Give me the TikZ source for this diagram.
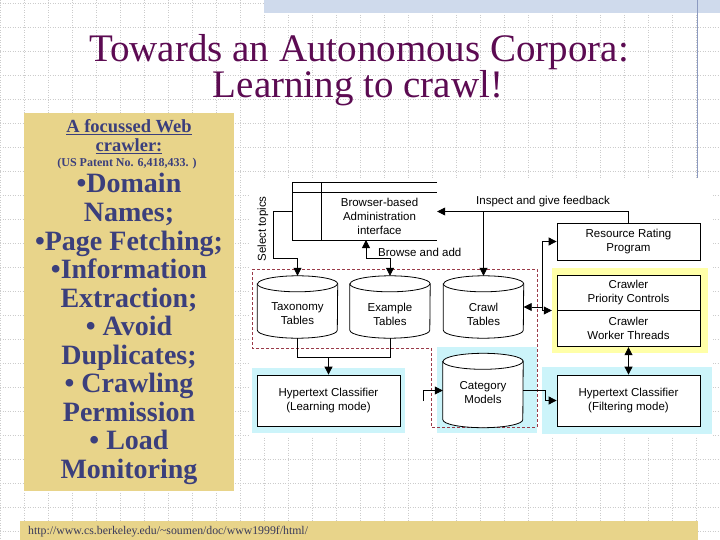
\documentclass[tikz,border=0pt]{standalone}
\usepackage{fontspec}
\setmainfont{Liberation Serif}
\newfontfamily\diagfont{Liberation Sans}
\usetikzlibrary{arrows.meta, positioning, calc}
\definecolor{titlepurple}{HTML}{5C0B52}
\definecolor{panelyellow}{HTML}{E8D48A}
\definecolor{panelblue}{HTML}{3B3F7C}
\definecolor{gridgray}{HTML}{CCCCCC}
\definecolor{bandblue}{HTML}{CFDAEC}
\definecolor{rulegray}{HTML}{8C9AC0}
\definecolor{glowyellow}{HTML}{FFFFA8}
\definecolor{paleteal}{HTML}{CCF4FA}
\definecolor{dashred}{HTML}{9A3A48}
\definecolor{urlgray}{HTML}{3A3A5A}

\begin{document}
\begin{tikzpicture}[
		x=1pt, y=-1pt,
		box/.style={
				draw,
				line width=0.8pt,
				fill=white,
				minimum width=143pt,
				align=center,
				inner sep=0pt,
				font=\diagfont\fontsize{11.5}{14}\selectfont
			},
		tank/.style={minimum width=80pt, inner sep=0pt},
		lbl/.style={align=center, inner sep=0pt, font=\diagfont\fontsize{11.5}{14}\selectfont},
		arr/.style={line width=0.8pt, -{Triangle[length=8pt,width=8pt]}},
		darr/.style={line width=0.8pt, {Triangle[length=8pt,width=8pt]}-{Triangle[length=8pt,width=8pt]}},
		bigline/.style={anchor=base, inner sep=0pt, text=panelblue, font=\bfseries\fontsize{28}{28}\selectfont}
	]
	\useasboundingbox (0,0) rectangle (720,540);

	% slide background
	\fill[white] (0,0) rectangle (720,540);
	\foreach \gx in {0,24,...,720}
	\draw[gridgray, dotted, line width=0.5pt] (\gx,0) -- (\gx,540);
	\foreach \gy in {3,27,...,531}
	\draw[gridgray, dotted, line width=0.5pt] (0,\gy) -- (720,\gy);
	\fill[bandblue] (264,0) rectangle (720,13);
	\draw[rulegray, line width=1pt] (697,0) -- (697,178);

	% title
	\node[anchor=base, inner sep=0pt, text=titlepurple, font=\fontsize{39}{39}\selectfont] (title1) at (359,62) {Towards an Autonomous Corpora:};
	\node[anchor=base, inner sep=0pt, text=titlepurple, font=\fontsize{39}{39}\selectfont] (title2) at (358,98) {Learning to crawl!};

	% left panel
	\fill[panelyellow] (24,113) rectangle (234,491);
	\node[anchor=base, inner sep=0pt, text=panelblue, font=\bfseries\fontsize{18.5}{18.5}\selectfont] (head1) at (129,133) {\underline{A focussed Web}};
	\node[anchor=base, inner sep=0pt, text=panelblue, font=\bfseries\fontsize{18.5}{18.5}\selectfont] (head2) at (129,152) {\underline{crawler:}};
	\node[anchor=base, inner sep=0pt, text=panelblue, font=\bfseries\fontsize{12}{12}\selectfont] (patent) at (127,167) {(US Patent No. 6,418,433. )};
	\foreach \txt [count=\i from 0] in {\textbullet Domain, Names;, \textbullet Page Fetching;, \textbullet Information, Extraction;, \textbullet{} Avoid, Duplicates;, \textbullet{} Crawling, Permission, \textbullet{} Load, Monitoring}
	\node[bigline] (item\i) at (129,193+28.5*\i) {\txt};

	% footer
	\fill[panelyellow] (20,521) rectangle (698,540);
	\node[anchor=base west, inner sep=0pt, text=urlgray, font=\fontsize{11.8}{11.8}\selectfont] (url) at (28,534) {http://www.cs.berkeley.edu/\textasciitilde soumen/doc/www1999f/html/};

	% diagram backdrop
	\fill[white] (250,179) rectangle (713,437);
	\fill[paleteal] (252,368) rectangle (405,433);
	\fill[paleteal] (437,347) rectangle (537,433);
	\fill[paleteal] (542,367) rectangle (712,434);
	\node[fill=glowyellow, minimum width=156pt, minimum height=85pt, inner sep=0pt] (glow) at (630,310.5) {};
	\draw[dashred, line width=0.7pt, dash pattern=on 3pt off 2pt]
	(252,269) -- (537,269) -- (537,427) -- (431,427) -- (431,348) -- (252,348) -- cycle;

	% admin window
	\node[minimum width=144pt, minimum height=57pt, inner sep=0pt] (admin) at (365,211.5) {};
	\draw[line width=0.8pt] (admin.north east) -- (admin.north west) -- (admin.south west) -- (admin.south east);
	\draw[line width=0.8pt] (admin.north west) ++(0,10) -- ++(144,0);
	\draw[line width=0.8pt] (admin.north west) ++(29,0) -- ++(0,57);
	\node[lbl] (admintxt) at (379.5,216) {Browser-based\\Administration\\interface};

	% tables
	\node[tank, minimum height=62pt] (tax) at (297.5,307) {};
	\node[tank, minimum height=62pt] (exa) at (390,307) {};
	\node[tank, minimum height=62pt] (crawl) at (483.5,307) {};
	\node[tank, minimum height=74pt] (cat) at (483,390.5) {};
	\foreach \t in {tax, exa, crawl, cat} {
			\draw[line width=0.8pt, fill=white]
			([yshift=-8pt]\t.north west) -- ([yshift=8pt]\t.south west)
			arc[start angle=180, end angle=360, x radius=40pt, y radius=8pt]
			-- ([yshift=-8pt]\t.north east)
			arc[start angle=0, end angle=180, x radius=40pt, y radius=8pt] -- cycle;
			\draw[line width=0.8pt] ([yshift=-8pt]\t.north west)
			arc[start angle=180, end angle=360, x radius=40pt, y radius=8pt];
		}
	\node[lbl] (taxtxt) at ([yshift=-7pt]tax.center) {Taxonomy\\Tables};
	\node[lbl] (exatxt) at ([yshift=-7pt]exa.center) {Example\\Tables};
	\node[lbl] (crawltxt) at ([yshift=-7pt]crawl.center) {Crawl\\Tables};
	\node[lbl] (cattxt) at ([yshift=-2pt]cat.center) {Category\\Models};

	% boxes
	\node[box, minimum height=37pt] (rate) at (628.5,241.5) {Resource Rating\\Program};
	\node[box, minimum height=35pt] (prio) at (628.5,292.5) {Crawler\\Priority Controls};
	\node[box, minimum height=36pt, below=0pt of prio] (worker) {Crawler\\Worker Threads};
	\node[box, minimum height=51pt] (filt) at (628.5,400.5) {Hypertext Classifier\\(Filtering mode)};
	\node[box, minimum height=51pt] (learn) at (328.5,400.5) {Hypertext Classifier\\(Learning mode)};

	% labels
	\node[lbl, rotate=90] (seltop) at (263,229) {Select topics};
	\node[lbl, anchor=west] (browse) at (378,252) {Browse and add};
	\node[lbl] (inspect) at (543,202) {Inspect and give feedback};

	% connectors
	\coordinate (browsept) at (366,240);
	\coordinate (lrnout) at (423,401);
	\draw[arr] (admin.west) -| (273,258) -| (tax.north);
	\draw[darr] (browsept) -- (366,258) -| (exa.north);
	\draw[arr] (rate.north) |- (admin.east);
	\draw[arr] (crawl.north |- admin.east) -- (crawl.north);
	\draw[line width=0.8pt] (tax.south) -- ++(0,19) coordinate (tabjoin) -| (exa.south);
	\draw[arr] (tabjoin -| learn.north) -- (learn.north);
	\draw[arr] (lrnout) |- (cat.west);
	\draw[arr] (cat.east) -- ++(22,0) |- (filt.west);
	\draw[darr] (crawl.east) -- ++(19,0) coordinate (crjoin) |- (rate.west);
	\draw[arr] (crjoin) |- (glow.west);
	\draw[darr] (worker.south) -- (filt.north);
\end{tikzpicture}
\end{document}
